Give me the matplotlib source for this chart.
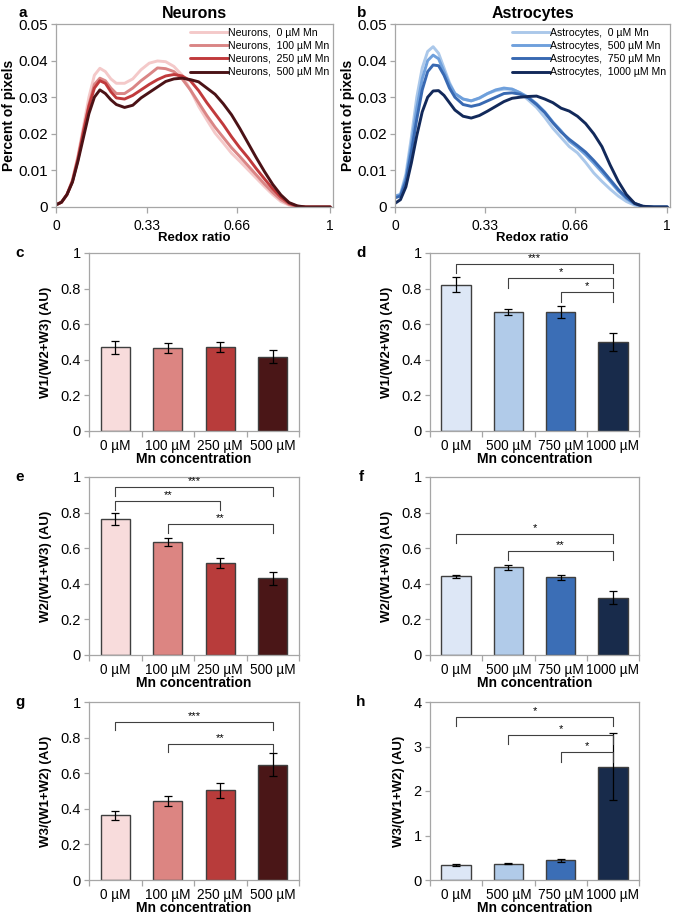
import matplotlib
matplotlib.use("Agg")
import matplotlib.pyplot as plt
import numpy as np

plt.rcParams["font.family"] = ["Liberation Sans", "DejaVu Sans"]

# redox ratio histograms
redox = [0, 0.02, 0.04, 0.06, 0.08, 0.10, 0.12, 0.14, 0.16, 0.18, 0.20, 0.22, 0.25, 0.28,
         0.31, 0.34, 0.37, 0.40, 0.43, 0.46, 0.49, 0.52, 0.55, 0.58, 0.61, 0.64, 0.67,
         0.70, 0.73, 0.76, 0.79, 0.82, 0.85, 0.88, 0.91, 0.95, 1.0]

neu_0 = [0.0006, 0.0013, 0.0034, 0.0075, 0.014, 0.022, 0.030, 0.036, 0.0379, 0.037, 0.035,
         0.0338, 0.0338, 0.035, 0.0375, 0.0393, 0.0399, 0.0397, 0.0384, 0.036, 0.032, 0.0275,
         0.0238, 0.0202, 0.0175, 0.0147, 0.0125, 0.0102, 0.0079, 0.0056, 0.0034, 0.0015,
         0.0005, 0.0001, 0, 0, 0]
neu_100 = [0.0006, 0.0013, 0.0034, 0.0072, 0.0135, 0.021, 0.028, 0.0335, 0.0352, 0.0345,
           0.0325, 0.031, 0.031, 0.0325, 0.0345, 0.0362, 0.038, 0.0378, 0.037, 0.035, 0.032,
           0.0285, 0.025, 0.0218, 0.019, 0.0162, 0.0138, 0.0113, 0.0088, 0.0063, 0.004, 0.002,
           0.0007, 0.0001, 0, 0, 0]
neu_250 = [0.0006, 0.0013, 0.0034, 0.007, 0.013, 0.0205, 0.0275, 0.0325, 0.0345, 0.0338,
           0.0315, 0.0298, 0.0295, 0.0305, 0.032, 0.0335, 0.0348, 0.0358, 0.0362, 0.0358,
           0.0345, 0.0318, 0.0285, 0.0255, 0.0225, 0.0192, 0.0162, 0.0135, 0.0105, 0.0077,
           0.005, 0.0027, 0.001, 0.0002, 0, 0, 0]
neu_500 = [0.0006, 0.0013, 0.0034, 0.0068, 0.0125, 0.019, 0.0255, 0.030, 0.032, 0.031, 0.0293,
           0.028, 0.0272, 0.0278, 0.0298, 0.0313, 0.0328, 0.0343, 0.035, 0.0352, 0.0348,
           0.0342, 0.0325, 0.0308, 0.0282, 0.0252, 0.0215, 0.0175, 0.0135, 0.0097, 0.0062,
           0.0033, 0.0012, 0.0003, 0, 0, 0]

ast_0 = [0.003, 0.0035, 0.009, 0.019, 0.030, 0.038, 0.0425, 0.0438, 0.042, 0.038, 0.034,
         0.031, 0.0295, 0.029, 0.0297, 0.031, 0.0318, 0.0322, 0.0322, 0.0312, 0.0292, 0.0272,
         0.0245, 0.0215, 0.019, 0.0165, 0.0148, 0.0122, 0.0093, 0.007, 0.0049, 0.003, 0.0015,
         0.0005, 0.0001, 0, 0]
ast_500 = [0.003, 0.0033, 0.008, 0.017, 0.027, 0.035, 0.040, 0.0415, 0.0405, 0.037, 0.0335,
           0.031, 0.0295, 0.029, 0.0298, 0.031, 0.032, 0.0325, 0.0322, 0.0312, 0.030, 0.0282,
           0.026, 0.0232, 0.0208, 0.018, 0.0163, 0.0143, 0.012, 0.0095, 0.007, 0.0044, 0.0023,
           0.0008, 0.0001, 0, 0]
ast_750 = [0.0025, 0.003, 0.007, 0.015, 0.024, 0.032, 0.037, 0.0388, 0.0386, 0.036, 0.0325,
           0.030, 0.028, 0.0275, 0.028, 0.029, 0.030, 0.031, 0.0312, 0.0308, 0.0298, 0.028,
           0.0258, 0.023, 0.0205, 0.0185, 0.0168, 0.015, 0.0127, 0.0102, 0.0075, 0.0048,
           0.0026, 0.001, 0.0002, 0, 0]
ast_1000 = [0.001, 0.002, 0.0055, 0.012, 0.0195, 0.026, 0.030, 0.0317, 0.0318, 0.0305, 0.0285,
            0.0265, 0.0248, 0.0243, 0.025, 0.0262, 0.0275, 0.0288, 0.0297, 0.030, 0.0302,
            0.0303, 0.0295, 0.0285, 0.027, 0.0262, 0.0248, 0.0228, 0.020, 0.0165, 0.0115,
            0.007, 0.0034, 0.001, 0.0002, 0, 0]

# bar data
neu_cats = ["0 µM", "100 µM", "250 µM", "500 µM"]
ast_cats = ["0 µM", "500 µM", "750 µM", "1000 µM"]

c_mean = [0.470, 0.465, 0.472, 0.418]
c_err = [0.035, 0.028, 0.030, 0.035]
d_mean = [0.823, 0.670, 0.670, 0.500]
d_err = [0.040, 0.018, 0.035, 0.048]
e_mean = [0.763, 0.633, 0.517, 0.430]
e_err = [0.035, 0.022, 0.027, 0.038]
f_mean = [0.443, 0.493, 0.437, 0.323]
f_err = [0.008, 0.013, 0.015, 0.035]
g_mean = [0.363, 0.445, 0.503, 0.647]
g_err = [0.027, 0.028, 0.040, 0.065]
h_mean = [0.335, 0.365, 0.440, 2.550]
h_err = [0.015, 0.015, 0.040, 0.750]

# significance brackets: (from, to, top, leg bottom, stars)
d_sig = [(0, 3, 0.938, 0.888, "***"), (1, 3, 0.860, 0.805, "*"), (2, 3, 0.779, 0.723, "*")]
e_sig = [(0, 3, 0.942, 0.893, "***"), (0, 2, 0.867, 0.815, "**"), (1, 3, 0.734, 0.683, "**")]
f_sig = [(0, 3, 0.681, 0.631, "*"), (1, 3, 0.584, 0.534, "**")]
g_sig = [(0, 3, 0.889, 0.841, "***"), (1, 3, 0.766, 0.717, "**")]
h_sig = [(0, 3, 3.66, 3.45, "*"), (1, 3, 3.26, 3.06, "*"), (2, 3, 2.87, 2.66, "*")]

neu_line_cols = ["#F4C9C9", "#DA8585", "#C13A3C", "#4B1216"]
ast_line_cols = ["#ABC8EA", "#6FA0DC", "#3869B2", "#12295A"]
neu_bar_cols = ["#F8DCDC", "#DC8582", "#B83C3B", "#4A1617"]
ast_bar_cols = ["#DDE7F6", "#B1CBE9", "#3B6EB6", "#182B4B"]

GRAY = "#A6A6A6"
W, H = 675, 916
fig = plt.figure(figsize=(W / 100, H / 100), dpi=100)


def box(l, t, r, b):
    return [l / W, 1 - b / H, (r - l) / W, (b - t) / H]


def style(ax):
    for s in ax.spines.values():
        s.set_color(GRAY)
        s.set_linewidth(0.9)
    ax.tick_params(axis="both", colors=GRAY, labelcolor="black", labelsize=9.5,
                   direction="out", length=3.5, width=0.9)


def line_panel(rect, series, labels, cols, title, letter):
    ax = fig.add_axes(rect)
    for y, lab, c in zip(series, labels, cols):
        ax.plot(redox, y, color=c, lw=2.1, label=lab, solid_capstyle="round")
    ax.set_xlim(0, 1.01)
    ax.set_ylim(0, 0.05)
    ax.set_xticks([0, 0.33, 0.66, 1])
    ax.set_xticklabels(["0", "0.33", "0.66", "1"])
    ax.set_yticks([0, 0.01, 0.02, 0.03, 0.04, 0.05])
    ax.set_yticklabels(["0", "0.01", "0.02", "0.03", "0.04", "0.05"])
    style(ax)
    ax.tick_params(axis="y", labelsize=11, pad=2)
    ax.tick_params(axis="x", length=4, pad=5, labelsize=10)
    ax.set_xlabel("Redox ratio", fontsize=9.5, fontweight="bold", labelpad=-1)
    ax.set_ylabel("Percent of pixels", fontsize=10, fontweight="bold", labelpad=2)
    ax.set_title(title, fontsize=11.5, fontweight="bold", pad=4)
    ax.text(-0.12, 1.02, letter, transform=ax.transAxes, fontsize=11,
            fontweight="bold", ha="center", va="bottom")
    ax.legend(loc="upper right", frameon=False, fontsize=7.6, handlelength=3.6,
              handletextpad=0.0, labelspacing=0.3, borderaxespad=0.25, borderpad=0.1)
    return ax


def bar_panel(rect, cats, mean, err, cols, ylabel, letter, sig, ymax=1.0, ystep=0.2):
    ax = fig.add_axes(rect)
    x = np.arange(len(cats))
    ax.bar(x, mean, width=0.56, color=cols, edgecolor="#3F3F3F", linewidth=1.0, zorder=2)
    ax.errorbar(x, mean, yerr=err, fmt="none", ecolor="black", elinewidth=0.9,
                capsize=3, capthick=0.9, zorder=3)
    ax.set_xlim(-0.5, len(cats) - 0.5)
    ax.set_ylim(0, ymax)
    ax.set_xticks(np.arange(len(cats) + 1) - 0.5)
    ax.set_xticklabels([])
    ax.set_xticks(x, minor=True)
    ax.set_xticklabels(cats, minor=True)
    yt = np.arange(0, ymax + 1e-9, ystep)
    ax.set_yticks(yt)
    ax.set_yticklabels(["%g" % v for v in yt])
    style(ax)
    ax.tick_params(axis="y", labelsize=10.5, pad=2.5)
    ax.tick_params(axis="x", which="major", length=4)
    ax.tick_params(axis="x", which="minor", length=0, pad=6, labelsize=9.8)
    ax.set_xlabel("Mn concentration", fontsize=10, fontweight="bold", labelpad=-1)
    ax.set_ylabel(ylabel, fontsize=9.5, fontweight="bold", labelpad=6)
    ax.text(-0.33, 0.96, letter, transform=ax.transAxes, fontsize=11,
            fontweight="bold", ha="center", va="bottom")
    for i, j, top, bot, stars in sig:
        ax.plot([i, i, j, j], [bot, top, top, bot], color="#404040", lw=0.8, zorder=4)
        ax.text((i + j) / 2, top + ymax * 0.006, stars, ha="center", va="bottom", fontsize=8)
    return ax


line_panel(box(56, 24, 333, 207), [neu_0, neu_100, neu_250, neu_500],
           ["Neurons,  0 µM Mn", "Neurons,  100 µM Mn", "Neurons,  250 µM Mn", "Neurons,  500 µM Mn"],
           neu_line_cols, "Neurons", "a")
line_panel(box(395, 24, 670, 207), [ast_0, ast_500, ast_750, ast_1000],
           ["Astrocytes,  0 µM Mn", "Astrocytes,  500 µM Mn", "Astrocytes,  750 µM Mn",
            "Astrocytes,  1000 µM Mn"],
           ast_line_cols, "Astrocytes", "b")

bar_panel(box(89, 253, 299, 431), neu_cats, c_mean, c_err, neu_bar_cols, "W1/(W2+W3) (AU)", "c", [])
bar_panel(box(430, 253, 639, 431), ast_cats, d_mean, d_err, ast_bar_cols, "W1/(W2+W3) (AU)", "d", d_sig)
bar_panel(box(89, 477, 299, 655), neu_cats, e_mean, e_err, neu_bar_cols, "W2/(W1+W3) (AU)", "e", e_sig)
bar_panel(box(430, 477, 639, 655), ast_cats, f_mean, f_err, ast_bar_cols, "W2/(W1+W3) (AU)", "f", f_sig)
bar_panel(box(89, 702, 299, 880), neu_cats, g_mean, g_err, neu_bar_cols, "W3/(W1+W2) (AU)", "g", g_sig)
bar_panel(box(430, 702, 639, 880), ast_cats, h_mean, h_err, ast_bar_cols, "W3/(W1+W2) (AU)", "h", h_sig,
          ymax=4, ystep=1)

fig.savefig("out.png", dpi=100)
